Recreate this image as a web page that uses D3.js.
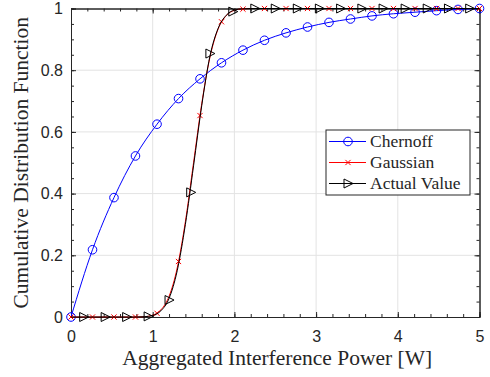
<!DOCTYPE html>
<html>
<head>
<meta charset="utf-8">
<script src="https://cdn.jsdelivr.net/npm/d3@7"></script>
<style>
  body { margin: 0; background: #fff; }
  .tick text { font-family: "Liberation Sans", Arial, sans-serif; font-size: 16px; fill: #262626; }
  .axis path, .axis line { stroke: #262626; }
</style>
</head>
<body>
<div class="cdfChart"></div>
<script>
// marker positions (20 samples on [0, 5])
const sampleX = [0, 0.263, 0.526, 0.789, 1.053, 1.316, 1.579, 1.842, 2.105, 2.368,
                 2.632, 2.895, 3.158, 3.421, 3.684, 3.947, 4.211, 4.474, 4.737, 5];
const chernoffY = [0, 0.218, 0.387, 0.522, 0.625, 0.708, 0.772, 0.824, 0.865, 0.897,
                   0.921, 0.94, 0.955, 0.966, 0.976, 0.983, 0.988, 0.993, 0.997, 1.0];
const gaussianY = [0, 0, 0, 0, 0.012, 0.18, 0.653, 0.957, 0.998, 1,
                   1, 1, 1, 1, 1, 1, 1, 1, 1, 1];

// gaussian line read at finer steps
const gaussLineX = [0, 0.8, 0.9, 1.0, 1.1, 1.2, 1.3, 1.4, 1.5, 1.6, 1.7, 1.8, 1.9, 2.0, 2.1, 2.2, 5];
const gaussLineY = [0, 0, 0.001, 0.006, 0.023, 0.067, 0.159, 0.309, 0.5, 0.691, 0.841, 0.933, 0.977, 0.994, 0.999, 1, 1];

// actual value line and its markers
const actualLineX = [0, 0.8, 0.9, 1.0, 1.1, 1.2, 1.3, 1.4, 1.5, 1.6, 1.7, 1.8, 1.9, 2.0, 2.1, 2.2, 5];
const actualLineY = [0, 0, 0.001, 0.005, 0.02, 0.06, 0.15, 0.3, 0.49, 0.685, 0.845, 0.935, 0.978, 0.995, 0.999, 1, 1];
const actualMarkX = [0.155, 0.418, 0.681, 0.944, 1.2, 1.465, 1.7, 1.98, 2.25, 2.5,
                     2.77, 3.04, 3.3, 3.56, 3.82, 4.09, 4.36, 4.62, 4.88];
const actualMarkY = [0, 0, 0, 0.002, 0.055, 0.404, 0.854, 0.99, 1, 1,
                     1, 1, 1, 1, 1, 1, 1, 1, 1];

const xTicks = [0, 1, 2, 3, 4, 5];
const yTicks = [0, 0.2, 0.4, 0.6, 0.8, 1];
const legendNames = ['Chernoff', 'Gaussian', 'Actual Value'];

const W = 490, H = 377;
const margin = { top: 8.5, right: 10.5, bottom: 60, left: 71 };
const width = W - margin.left - margin.right;
const height = H - margin.top - margin.bottom;

const xScale = d3.scaleLinear().domain([0, 5]).range([0, width]);
const yScale = d3.scaleLinear().domain([0, 1]).range([height, 0]);

const svg = d3.select('.cdfChart')
    .append('svg')
    .attr('width', W)
    .attr('height', H)
    .append('g')
    .attr('transform', 'translate(' + margin.left + ',' + margin.top + ')');

// grid
svg.append('g').selectAll('line')
    .data(xTicks.slice(1, -1))
    .enter().append('line')
    .attr('x1', d => xScale(d)).attr('x2', d => xScale(d))
    .attr('y1', 0).attr('y2', height)
    .attr('stroke', '#e3e3e3');
svg.append('g').selectAll('line')
    .data(yTicks.slice(1, -1))
    .enter().append('line')
    .attr('y1', d => yScale(d)).attr('y2', d => yScale(d))
    .attr('x1', 0).attr('x2', width)
    .attr('stroke', '#e3e3e3');

const xMinor = d3.range(0, 5.001, 0.2);
const yMinor = d3.range(0, 1.001, 0.05);

// minor ticks on all four sides
svg.append('g').attr('class', 'axis').attr('transform', 'translate(0,' + height + ')')
    .call(d3.axisBottom(xScale).tickValues(xMinor).tickSize(-3).tickFormat(''));
svg.append('g').attr('class', 'axis')
    .call(d3.axisTop(xScale).tickValues(xMinor).tickSize(-3).tickFormat(''));
svg.append('g').attr('class', 'axis')
    .call(d3.axisLeft(yScale).tickValues(yMinor).tickSize(-3).tickFormat(''));
svg.append('g').attr('class', 'axis').attr('transform', 'translate(' + width + ',0)')
    .call(d3.axisRight(yScale).tickValues(yMinor).tickSize(-3).tickFormat(''));

// major ticks
svg.append('g').attr('class', 'x axis').attr('transform', 'translate(0,' + height + ')')
    .call(d3.axisBottom(xScale).tickValues(xTicks).tickSize(-5).tickPadding(14).tickFormat(d3.format('d')));
svg.append('g').attr('class', 'axis')
    .call(d3.axisTop(xScale).tickValues(xTicks).tickSize(-5).tickFormat(''));
svg.append('g').attr('class', 'y axis')
    .call(d3.axisLeft(yScale).tickValues(yTicks).tickSize(-5).tickPadding(8).tickFormat(d => d));
svg.append('g').attr('class', 'axis').attr('transform', 'translate(' + width + ',0)')
    .call(d3.axisRight(yScale).tickValues(yTicks).tickSize(-5).tickFormat(''));

svg.selectAll('.axis path.domain').attr('stroke-width', 1);

const line = d3.line()
    .x(d => xScale(d[0]))
    .y(d => yScale(d[1]))
    .curve(d3.curveMonotoneX);

const chernoff = d3.zip(sampleX, chernoffY);
const gaussMarks = d3.zip(sampleX, gaussianY);
const gaussLine = d3.zip(gaussLineX, gaussLineY);
const actualLine = d3.zip(actualLineX, actualLineY);
const actualMarks = d3.zip(actualMarkX, actualMarkY);

const plot = svg.append('g');

// Chernoff
plot.append('path').datum(chernoff)
    .attr('d', line).attr('fill', 'none').attr('stroke', '#0000ff').attr('stroke-width', 1);
plot.selectAll('.dot1').data(chernoff).enter().append('circle')
    .attr('class', 'dot1')
    .attr('cx', d => xScale(d[0])).attr('cy', d => yScale(d[1]))
    .attr('r', 4.3).attr('fill', 'none').attr('stroke', '#0000ff').attr('stroke-width', 1);

// Gaussian
const cross = (sel, s) => sel.attr('d', `M${-s},${-s}L${s},${s}M${-s},${s}L${s},${-s}`);
plot.append('path').datum(gaussLine)
    .attr('d', line).attr('fill', 'none').attr('stroke', '#ff0000').attr('stroke-width', 1);
plot.selectAll('.dot2').data(gaussMarks).enter().append('path')
    .attr('class', 'dot2')
    .attr('transform', d => `translate(${xScale(d[0])},${yScale(d[1])})`)
    .call(cross, 2.6)
    .attr('fill', 'none').attr('stroke', '#ff0000').attr('stroke-width', 1);

// Actual Value
const tri = 'M-4,-4.5L5,0L-4,4.5Z';
plot.append('path').datum(actualLine)
    .attr('d', line).attr('fill', 'none').attr('stroke', '#000').attr('stroke-width', 1);
plot.selectAll('.dot3').data(actualMarks).enter().append('path')
    .attr('class', 'dot3')
    .attr('transform', d => `translate(${xScale(d[0])},${yScale(d[1])})`)
    .attr('d', tri)
    .attr('fill', 'none').attr('stroke', '#000').attr('stroke-width', 1);

// axis labels
svg.append('text')
    .attr('x', width / 2 + 2).attr('y', height + 48)
    .attr('text-anchor', 'middle')
    .style('font-family', '"Liberation Serif", "Times New Roman", serif')
    .style('font-size', '21.5px').attr('fill', '#262626')
    .text('Aggregated Interference Power [W]');
svg.append('text')
    .attr('transform', `translate(${-margin.left + 28},${height / 2}) rotate(-90)`)
    .attr('text-anchor', 'middle')
    .style('font-family', '"Liberation Serif", "Times New Roman", serif')
    .style('font-size', '21.5px').attr('fill', '#262626')
    .text('Cumulative Distribution Function');

// legend
const legend = svg.append('g').attr('transform', `translate(${326 - margin.left},${130 - margin.top})`);
legend.append('rect')
    .attr('width', 144).attr('height', 65)
    .attr('fill', '#fff').attr('stroke', '#262626').attr('stroke-width', 1);
const colors = ['#0000ff', '#ff0000', '#000'];
const rows = legend.selectAll('.row').data(legendNames).enter().append('g')
    .attr('class', 'row')
    .attr('transform', (d, i) => `translate(0,${11.5 + i * 21})`);
rows.append('line')
    .attr('x1', 3).attr('x2', 40)
    .attr('stroke', (d, i) => colors[i]).attr('stroke-width', 1);
rows.filter((d, i) => i === 0).append('circle')
    .attr('cx', 22).attr('r', 4.3).attr('fill', 'none').attr('stroke', colors[0]);
rows.filter((d, i) => i === 1).append('path')
    .attr('transform', 'translate(22,0)').call(cross, 2.6)
    .attr('fill', 'none').attr('stroke', colors[1]);
rows.filter((d, i) => i === 2).append('path')
    .attr('transform', 'translate(22,0)').attr('d', tri)
    .attr('fill', 'none').attr('stroke', colors[2]);
rows.append('text')
    .attr('x', 44).attr('y', 5.5)
    .style('font-family', '"Liberation Serif", "Times New Roman", serif')
    .style('font-size', '17.5px').attr('fill', '#262626')
    .text(d => d);
</script>
</body>
</html>
